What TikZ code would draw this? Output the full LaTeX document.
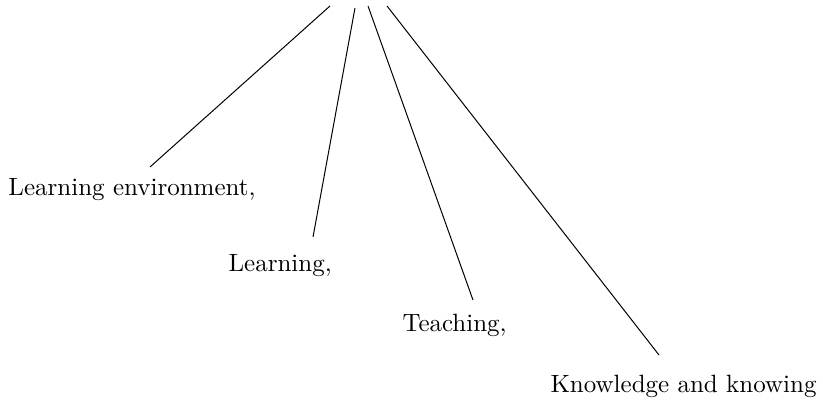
\documentclass[tikz,border=0pt]{standalone}
\usepackage{tikz}
\usetikzlibrary{positioning}

\begin{document}
\begin{tikzpicture}
    \tikzset{lbl/.style={anchor=base west, inner sep=0pt}}
    \useasboundingbox (0,0) rectangle (11.571,5.610);

    % Top ends of the lines
    \coordinate (t1) at (4.640,5.526);
    \coordinate (t2) at (4.991,5.497);
    \coordinate (t3) at (5.174,5.526);
    \coordinate (t4) at (5.441,5.526);

    % Labels
    \node[lbl] (env)   at (0.112,2.868) {Learning environment,};
    \node[lbl] (learn) at (3.206,1.786) {Learning,};
    \node[lbl] (teach) at (5.652,0.956) {Teaching,};
    \node[lbl] (know)  at (7.733,0.098) {Knowledge and knowing};

    % Lower ends, just above the labels
    \coordinate (e1) at (2.109,3.262);
    \coordinate (e2) at (4.401,2.278);
    \coordinate (e3) at (6.650,1.392);
    \coordinate (e4) at (9.265,0.619);

    % The lines
    \draw (t1) -- (e1);
    \draw (t2) -- (e2);
    \draw (t3) -- (e3);
    \draw (t4) -- (e4);

\end{tikzpicture}
\end{document}
